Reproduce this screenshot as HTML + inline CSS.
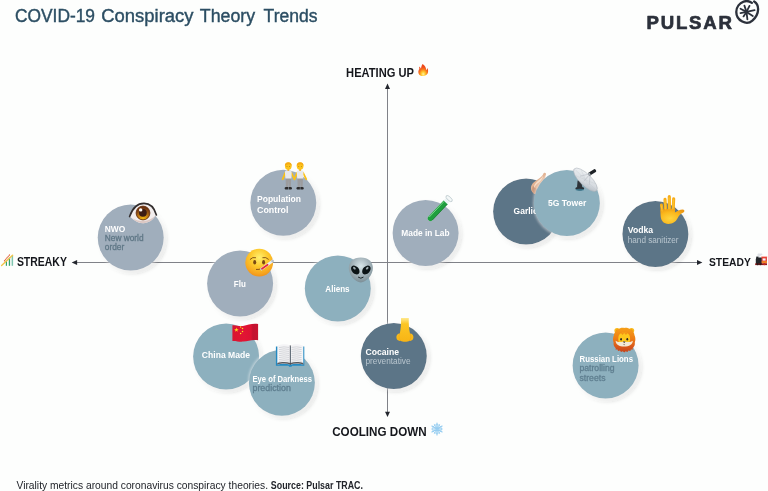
<!DOCTYPE html>
<html lang="en">
<head>
<meta charset="utf-8">
<title>COVID-19 Conspiracy Theory Trends</title>
<style>
html,body{margin:0;padding:0;background:#fdfefd;}
body{width:768px;height:491px;overflow:hidden;position:relative;}
svg{position:absolute;left:0;top:0;display:block;}
text{font-family:"Liberation Sans",Arial,Helvetica,sans-serif;}
.t{font-weight:700;fill:#ffffff;font-size:8.3px;}
.s{font-weight:400;font-size:8.3px;}
.ax{font-weight:700;fill:#15171c;font-size:12px;}
</style>
</head>
<body>
<svg width="768" height="491" viewBox="0 0 768 491">
<defs>
<filter id="sh" x="-20%" y="-20%" width="140%" height="140%">
<feGaussianBlur in="SourceAlpha" stdDeviation="2.1" result="b1"/>
<feOffset in="b1" dx="2" dy="2" result="o1"/>
<feFlood flood-color="#101828" flood-opacity="0.22"/>
<feComposite in2="o1" operator="in" result="shadow"/>
<feMorphology in="SourceAlpha" operator="dilate" radius="1.3" result="d1"/>
<feGaussianBlur in="d1" stdDeviation="1.2" result="b2"/>
<feFlood flood-color="#ffffff" flood-opacity="0.4"/>
<feComposite in2="b2" operator="in" result="glow"/>
<feMerge><feMergeNode in="shadow"/><feMergeNode in="glow"/><feMergeNode in="SourceGraphic"/></feMerge>
</filter>
</defs>
<rect width="768" height="491" fill="#fdfefd"/>

<!-- header -->
<g font-size="18" fill="#2c4e63" stroke="#2c4e63" stroke-width="0.4">
<text x="15" y="22.2" textLength="80" lengthAdjust="spacingAndGlyphs">COVID-19</text>
<text x="101.3" y="22.2" textLength="92.2" lengthAdjust="spacingAndGlyphs">Conspiracy</text>
<text x="199.8" y="22.2" textLength="55.4" lengthAdjust="spacingAndGlyphs">Theory</text>
<text x="263.6" y="22.2" textLength="53.9" lengthAdjust="spacingAndGlyphs">Trends</text>
</g>
<text x="646.5" y="29.1" font-size="18.6" font-weight="700" fill="#2c313b" stroke="#2c313b" stroke-width="0.7" stroke-linejoin="round" textLength="85.5" lengthAdjust="spacing">PULSAR</text>
<g fill="none" stroke="#2c313b" stroke-linecap="round" stroke-linejoin="round">
<path d="M751.9 2.9 C749.5 1 746.5 0.6 743.6 1.6 C739.6 3 736.4 7 736.3 11.8 C736.2 16 738.6 19.6 742.3 21.6 C745.6 23.3 749.4 23.2 752.4 20.6 C755.6 17.8 758 13.6 758.1 9.4 C758.2 6 756.8 3 754.2 1.4" stroke-width="2.3"/>
<g stroke-width="1.8">
<line x1="746.5" y1="11.9" x2="744.4" y2="5.6"/>
<line x1="746.5" y1="11.9" x2="749.5" y2="5.9"/>
<line x1="746.5" y1="11.9" x2="754.6" y2="10.1"/>
<line x1="746.5" y1="11.9" x2="752.8" y2="16.1"/>
<line x1="746.5" y1="11.9" x2="747.4" y2="19.4"/>
<line x1="746.5" y1="11.9" x2="743.5" y2="16.4"/>
<line x1="746.5" y1="11.9" x2="740.5" y2="13.1"/>
<line x1="746.5" y1="11.9" x2="740.5" y2="8.7"/>
</g>
<circle cx="746.5" cy="11.9" r="1.2" fill="#2c313b" stroke="none"/>
</g>

<!-- axes -->
<g stroke="#808288" stroke-width="1" fill="none">
<line x1="387.5" y1="87" x2="387.5" y2="414"/>
<line x1="75" y1="262.5" x2="699" y2="262.5"/>
</g>
<g fill="#23262d">
<path d="M387.5 83.6 L390 89 L385 89 Z"/>
<path d="M387.5 417.1 L390 411.7 L385 411.7 Z"/>
<path d="M71.7 262.5 L77.1 260 L77.1 265 Z"/>
<path d="M702.4 262.5 L697 260 L697 265 Z"/>
</g>
<text class="ax" x="346.1" y="77.1" textLength="67.8" lengthAdjust="spacingAndGlyphs">HEATING UP</text>
<text class="ax" x="332.2" y="436" textLength="94.4" lengthAdjust="spacingAndGlyphs">COOLING DOWN</text>
<text class="ax" x="16.9" y="266.4" textLength="50" lengthAdjust="spacingAndGlyphs">STREAKY</text>
<text class="ax" x="709" y="266.2" textLength="41.8" style="font-size:11.5px" lengthAdjust="spacingAndGlyphs">STEADY</text>

<!-- bubbles -->
<g filter="url(#sh)"><circle cx="130.7" cy="237.6" r="33" fill="#a0aebc"/></g>
<g filter="url(#sh)"><circle cx="283.3" cy="202.8" r="33" fill="#a0aebc"/></g>
<g filter="url(#sh)"><circle cx="240.1" cy="283.6" r="33" fill="#a0aebc"/></g>
<g filter="url(#sh)"><circle cx="337.8" cy="288.4" r="33" fill="#8db0be"/></g>
<g filter="url(#sh)"><circle cx="226.1" cy="356.6" r="33" fill="#8db0be"/></g>
<g filter="url(#sh)"><circle cx="281.9" cy="382.8" r="33" fill="#8db0be"/></g>
<g filter="url(#sh)"><circle cx="393.8" cy="356.1" r="33" fill="#5b7587"/></g>
<g filter="url(#sh)"><circle cx="425.6" cy="232.9" r="33" fill="#a0aebc"/></g>
<g filter="url(#sh)"><circle cx="526.1" cy="211.6" r="33" fill="#5b7587"/></g>
<text class="t" x="513.6" y="214" textLength="24" lengthAdjust="spacingAndGlyphs">Garlic</text>
<g>
<path d="M544.4 172.8 C545.8 172.6 546.4 173.8 545.8 175 C544.6 177.6 545.6 180 548.6 182 C553 185 553.6 190.6 550 193.6 C546 196.8 538 196.6 533.8 193.4 C530 190.4 530 185.6 533.6 182.4 C537 179.4 541.6 177.4 543 174.4 C543.2 173.6 543.8 173 544.4 172.8Z" fill="#e2b393"/>
<path d="M533 186 C531.4 189 532 191.8 533.8 193.4 C538 196.6 546 196.8 550 193.6 C546 194 539 192.6 536 188.6 C535 187.4 534 186.4 533 186Z" fill="#c9977a"/>
<path d="M543.2 175.6 C542 178.6 538.2 180.4 535.8 183 C534.4 184.6 533.8 186.4 534 188.2 C534.8 186 536.4 184.2 538.8 182.4 C541 180.6 543 178.6 543.2 175.6Z" fill="#f6dec8"/>
</g>

<g filter="url(#sh)"><circle cx="566.9" cy="202.9" r="33" fill="#8db0be"/></g>
<g filter="url(#sh)"><circle cx="655.4" cy="234" r="33" fill="#5b7587"/></g>
<g filter="url(#sh)"><circle cx="605.6" cy="365.4" r="33" fill="#8db0be"/></g>

<!-- bubble labels -->
<text class="t" x="104.8" y="231.5" textLength="20.5" lengthAdjust="spacingAndGlyphs">NWO</text>
<text class="s" fill="#5f7786" stroke="#5f7786" stroke-width="0.3" x="104.8" y="241.2" textLength="38.8" lengthAdjust="spacingAndGlyphs">New world</text>
<text class="s" fill="#5f7786" stroke="#5f7786" stroke-width="0.3" x="104.8" y="249.6" textLength="19.5" lengthAdjust="spacingAndGlyphs">order</text>

<text class="t" x="257" y="201.8" textLength="44" lengthAdjust="spacingAndGlyphs">Population</text>
<text class="t" x="257" y="212.5" textLength="31.5" lengthAdjust="spacingAndGlyphs">Control</text>

<text class="t" x="233.8" y="286.7" textLength="12" lengthAdjust="spacingAndGlyphs">Flu</text>
<text class="t" x="325.3" y="291.8" textLength="24.3" lengthAdjust="spacingAndGlyphs">Aliens</text>
<text class="t" x="201.8" y="358.4" textLength="48.2" lengthAdjust="spacingAndGlyphs">China Made</text>

<text class="t" x="252.5" y="381.8" textLength="59.5" lengthAdjust="spacingAndGlyphs">Eye of Darkness</text>
<text class="s" fill="#5f7f90" stroke="#5f7f90" stroke-width="0.3" x="252.5" y="391.3" textLength="38.3" lengthAdjust="spacingAndGlyphs">prediction</text>

<text class="t" x="365.5" y="355" textLength="33.5" lengthAdjust="spacingAndGlyphs">Cocaine</text>
<text class="s" fill="#b9c6cf" x="365.5" y="364" textLength="45" lengthAdjust="spacingAndGlyphs">preventative</text>

<text class="t" x="401.3" y="235.5" textLength="48.2" lengthAdjust="spacingAndGlyphs">Made in Lab</text>
<text class="t" x="548" y="205.5" textLength="38.3" lengthAdjust="spacingAndGlyphs">5G Tower</text>

<text class="t" x="627.8" y="232.5" textLength="25.3" lengthAdjust="spacingAndGlyphs">Vodka</text>
<text class="s" fill="#b9c6cf" x="627.8" y="242.5" textLength="50.8" lengthAdjust="spacingAndGlyphs">hand sanitizer</text>

<text class="t" x="579.5" y="361.5" textLength="53.5" lengthAdjust="spacingAndGlyphs">Russian Lions</text>
<text class="s" fill="#5f7f90" stroke="#5f7f90" stroke-width="0.3" x="579.5" y="371" textLength="35" lengthAdjust="spacingAndGlyphs">patrolling</text>
<text class="s" fill="#5f7f90" stroke="#5f7f90" stroke-width="0.3" x="579.5" y="381.1" textLength="26" lengthAdjust="spacingAndGlyphs">streets</text>

<!-- footer -->
<text x="16.5" y="488.5" font-size="10.3" fill="#22252b" textLength="251.5" lengthAdjust="spacingAndGlyphs">Virality metrics around coronavirus conspiracy theories.</text>
<text x="270.8" y="488.5" font-size="10.3" font-weight="700" fill="#22252b" textLength="92.2" lengthAdjust="spacingAndGlyphs">Source: Pulsar TRAC.</text>

<defs>
<radialGradient id="gFace" cx="0.5" cy="0.32" r="0.72">
<stop offset="0" stop-color="#fff070"/><stop offset="0.45" stop-color="#fdc92c"/><stop offset="0.8" stop-color="#f6a520"/><stop offset="1" stop-color="#ee8c18"/>
</radialGradient>
<radialGradient id="gIris" cx="0.5" cy="0.9" r="0.8">
<stop offset="0" stop-color="#f0b810"/><stop offset="0.4" stop-color="#c88212"/><stop offset="0.75" stop-color="#8a4a14"/><stop offset="1" stop-color="#6a3210"/>
</radialGradient>
<radialGradient id="gAlien" cx="0.5" cy="0.35" r="0.65">
<stop offset="0" stop-color="#d8e6e9"/><stop offset="0.5" stop-color="#a9b8be"/><stop offset="1" stop-color="#7b8e96"/>
</radialGradient>
<linearGradient id="gNose" x1="0" y1="0" x2="0" y2="1">
<stop offset="0" stop-color="#ffe98f"/><stop offset="0.25" stop-color="#fcc624"/><stop offset="1" stop-color="#f7b415"/>
</linearGradient>
<radialGradient id="gHand" cx="0.4" cy="0.65" r="0.7">
<stop offset="0" stop-color="#ffd53e"/><stop offset="0.6" stop-color="#fbb71c"/><stop offset="1" stop-color="#ec9712"/>
</radialGradient>
<linearGradient id="gFlag" x1="0" y1="0" x2="1" y2="0">
<stop offset="0" stop-color="#d81630"/><stop offset="0.45" stop-color="#e21434"/><stop offset="0.72" stop-color="#dc1232"/><stop offset="0.8" stop-color="#c21230"/><stop offset="1" stop-color="#c81431"/>
</linearGradient>
<linearGradient id="gMane" x1="0" y1="0" x2="0" y2="1">
<stop offset="0" stop-color="#f6a018"/><stop offset="0.45" stop-color="#ee7c14"/><stop offset="0.75" stop-color="#d9581a"/><stop offset="1" stop-color="#c4421a"/>
</linearGradient>
<radialGradient id="gFlame" cx="0.5" cy="0.85" r="0.6">
<stop offset="0" stop-color="#fff3a0"/><stop offset="0.35" stop-color="#ffc62a"/><stop offset="0.7" stop-color="#f7761c"/><stop offset="1" stop-color="#ee4a1c"/>
</radialGradient>
<linearGradient id="gDish" x1="0" y1="0" x2="1" y2="1">
<stop offset="0" stop-color="#f4f6f8"/><stop offset="0.6" stop-color="#d6dbe0"/><stop offset="1" stop-color="#aab2ba"/>
</linearGradient>
</defs>

<!-- eye (NWO) -->
<g>
<path d="M129.6 216.2 C133 208.5 138 204 144 204 C149.5 204 153.8 208.2 156.2 214.8 C153 220 148.5 223.2 143.2 223.2 C137.5 223.2 133 219.8 129.6 216.2Z" fill="#f3eeee"/>
<path d="M132 218 C136 222 140 223.2 143.2 223.2 C148.5 223.2 153 220 156.2 214.8 C153 218.5 148 221 143 221 C138.5 221 135 219.8 132 218Z" fill="#dcc8c4"/>
<circle cx="143" cy="213" r="6.9" fill="url(#gIris)"/>
<circle cx="143" cy="213" r="6.9" fill="none" stroke="#6a3210" stroke-width="0.9"/>
<circle cx="142.9" cy="212.8" r="3.9" fill="#3c1c14"/>
<circle cx="140.7" cy="209.9" r="1.7" fill="#ffffff"/>
<path d="M129.6 216.6 C132.5 208 138 203.4 144 203.4 C150 203.4 154.4 208 156.4 215" fill="none" stroke="#332e2e" stroke-width="1.6" stroke-linecap="round"/>
</g>

<!-- two people (Population Control) -->
<g>
<line x1="285.4" y1="172.6" x2="282.7" y2="179.2" stroke="#fbc116" stroke-width="1.8" stroke-linecap="round"/>
<line x1="291.2" y1="172.6" x2="294.4" y2="179.2" stroke="#fbc116" stroke-width="1.8" stroke-linecap="round"/>
<path d="M285.6 178 L285.9 187.6 L288 187.6 L288.3 180.5 L288.7 187.6 L290.8 187.6 L291.2 178Z" fill="#9c9c9e"/>
<path d="M284.6 188.2 Q284.6 186.9 286.2 186.9 L288.1 186.9 L288.1 189.4 L285.4 189.4 Q284.6 189.3 284.6 188.2Z" fill="#2b2b2d"/>
<path d="M292 188.2 Q292 186.9 290.4 186.9 L288.6 186.9 L288.6 189.4 L291.2 189.4 Q292 189.3 292 188.2Z" fill="#2b2b2d"/>
<path d="M284.9 172 Q285 170.2 286.8 170.2 L289.8 170.2 Q291.6 170.2 291.7 172 L291.4 178.6 L285.4 178.6Z" fill="#e9e9ec"/>
<rect x="287.4" y="168.8" width="1.8" height="2" fill="#f3a814"/>
<ellipse cx="288.3" cy="166.2" rx="3.3" ry="3.6" fill="#fcc41c"/>
<path d="M284.9 166 Q284.6 162.2 288.3 162.2 Q292 162.2 291.7 166 Q290.6 164.4 288.8 164.3 Q286.4 164.3 284.9 166Z" fill="#f6a912"/>
<circle cx="287" cy="166.6" r="0.45" fill="#7a4a12"/><circle cx="289.6" cy="166.6" r="0.45" fill="#7a4a12"/>
</g>
<g transform="translate(11.8 0)">
<line x1="285.4" y1="172.6" x2="282.7" y2="179.2" stroke="#fbc116" stroke-width="1.8" stroke-linecap="round"/>
<line x1="291.2" y1="172.6" x2="294.4" y2="179.2" stroke="#fbc116" stroke-width="1.8" stroke-linecap="round"/>
<path d="M285.6 178 L285.9 187.6 L288 187.6 L288.3 180.5 L288.7 187.6 L290.8 187.6 L291.2 178Z" fill="#9c9c9e"/>
<path d="M284.6 188.2 Q284.6 186.9 286.2 186.9 L288.1 186.9 L288.1 189.4 L285.4 189.4 Q284.6 189.3 284.6 188.2Z" fill="#2b2b2d"/>
<path d="M292 188.2 Q292 186.9 290.4 186.9 L288.6 186.9 L288.6 189.4 L291.2 189.4 Q292 189.3 292 188.2Z" fill="#2b2b2d"/>
<path d="M284.9 172 Q285 170.2 286.8 170.2 L289.8 170.2 Q291.6 170.2 291.7 172 L291.4 178.6 L285.4 178.6Z" fill="#e9e9ec"/>
<rect x="287.4" y="168.8" width="1.8" height="2" fill="#f3a814"/>
<ellipse cx="288.3" cy="166.2" rx="3.3" ry="3.6" fill="#fcc41c"/>
<path d="M284.9 166 Q284.6 162.2 288.3 162.2 Q292 162.2 291.7 166 Q290.6 164.4 288.8 164.3 Q286.4 164.3 284.9 166Z" fill="#f6a912"/>
<circle cx="287" cy="166.6" r="0.45" fill="#7a4a12"/><circle cx="289.6" cy="166.6" r="0.45" fill="#7a4a12"/>
</g>


<!-- flu face -->
<g>
<circle cx="259.2" cy="262.6" r="13.9" fill="url(#gFace)"/>
<ellipse cx="254.7" cy="262.3" rx="1.5" ry="2.2" fill="#7a4a14"/>
<ellipse cx="263.6" cy="262.3" rx="1.5" ry="2.2" fill="#7a4a14"/>
<path d="M250.2 259.3 Q252.5 256.6 255.6 257.6" fill="none" stroke="#7a4a14" stroke-width="0.9" stroke-linecap="round"/>
<path d="M262.8 257.6 Q266 256.6 268.4 259.2" fill="none" stroke="#7a4a14" stroke-width="0.9" stroke-linecap="round"/>
<path d="M256.4 269.5 Q259 269.8 261.6 268.6" fill="none" stroke="#7a4a14" stroke-width="0.9" stroke-linecap="round"/>
<line x1="261.6" y1="269" x2="272.6" y2="261" stroke="#e9edf2" stroke-width="2.7" stroke-linecap="round"/>
<line x1="261.6" y1="269" x2="272.6" y2="261" stroke="#b8c0c8" stroke-width="2.7" stroke-linecap="round" stroke-dasharray="0 13.5 1" />
<line x1="262" y1="268.7" x2="267.6" y2="264.7" stroke="#e8283c" stroke-width="1.7" stroke-linecap="round"/>
</g>

<!-- alien -->
<g>
<path d="M360.8 257.4 C368.5 257.4 372.9 262 372.9 268 C372.9 274.5 366.5 282.4 360.8 282.4 C355 282.4 348.8 274.5 348.8 268 C348.8 262 353 257.4 360.8 257.4Z" fill="url(#gAlien)"/>
<ellipse cx="355.3" cy="270" rx="5" ry="3.5" transform="rotate(47 355.3 270)" fill="#0c1416"/>
<ellipse cx="366.4" cy="270" rx="5" ry="3.5" transform="rotate(-47 366.4 270)" fill="#0c1416"/>
<ellipse cx="354.4" cy="268.2" rx="1.6" ry="1" transform="rotate(42 354.4 268.2)" fill="#b9c6ca" opacity="0.85"/>
<ellipse cx="367.2" cy="268.2" rx="1.6" ry="1" transform="rotate(-42 367.2 268.2)" fill="#b9c6ca" opacity="0.85"/>
<path d="M358.4 277.3 Q360.8 279.4 363.2 277.3" fill="none" stroke="#1a2326" stroke-width="1" stroke-linecap="round"/>
</g>

<!-- china flag -->
<g>
<path d="M232.4 325.3 C236 324.8 239 326.6 243 325.9 C248 325 252 323.2 258.1 324 L258.1 340.2 C252 339.4 248 341 243.5 341.6 C239.5 342.2 236.5 340.8 232.4 341Z" fill="url(#gFlag)"/>
<path d="M236.40 327.50 L236.95 329.14 L238.68 329.16 L237.29 330.19 L237.81 331.84 L236.40 330.84 L234.99 331.84 L235.51 330.19 L234.12 329.16 L235.85 329.14 Z" fill="#ffde20"/>
<circle cx="240.6" cy="327" r="0.75" fill="#ffde20"/>
<circle cx="242.5" cy="328.6" r="0.75" fill="#ffde20"/>
<circle cx="242.5" cy="331.4" r="0.75" fill="#ffde20"/>
<circle cx="240.6" cy="333.4" r="0.75" fill="#ffde20"/>
</g>

<!-- open book -->
<g>
<path d="M275.9 346.4 L304.3 346.4 L304.3 365.7 L292.2 365.7 L291.4 366.8 L289.2 366.8 L288.4 365.7 L275.9 365.7Z" fill="#2289c2"/>
<path d="M277.3 346 C281 343.6 286.5 343.6 290.2 345.6 L290.2 364.6 C286.5 363.4 281 363.4 277.3 364.6Z" fill="#f4f4f6"/>
<path d="M303.3 346 C299.6 343.6 294.1 343.6 290.4 345.6 L290.4 364.6 C294.1 363.4 299.6 363.4 303.3 364.6Z" fill="#f4f4f6"/>
<path d="M277.3 364.7 C281 363.3 286.5 363.3 290.2 364.4 C294.1 363.3 299.6 363.3 303.3 364.7 L303.3 363.1 C299.6 361.8 294.1 361.8 290.3 362.9 C286.5 361.8 281 361.8 277.3 363.1Z" fill="#5a5a5e"/>
<g stroke="#b4b6bc" stroke-width="0.5">
<path d="M279 347.6 Q284 346.2 289 347.4 M279 349.6 Q284 348.2 289 349.4 M279 351.6 Q284 350.2 289 351.4 M279 353.6 Q284 352.2 289 353.4 M279 355.6 Q284 354.2 289 355.4 M279 357.6 Q284 356.2 289 357.4 M279 359.6 Q284 358.2 289 359.4 M279 361.4 Q284 360 289 361.2" fill="none"/>
<path d="M291.6 347.4 Q296.6 346.2 301.6 347.6 M291.6 349.4 Q296.6 348.2 301.6 349.6 M291.6 351.4 Q296.6 350.2 301.6 351.6 M291.6 353.4 Q296.6 352.2 301.6 353.6 M291.6 355.4 Q296.6 354.2 301.6 355.6 M291.6 357.4 Q296.6 356.2 301.6 357.6 M291.6 359.4 Q296.6 358.2 301.6 359.6 M291.6 361.2 Q296.6 360 301.6 361.4" fill="none"/>
</g>
<line x1="290.3" y1="345.4" x2="290.3" y2="364.8" stroke="#4a4c52" stroke-width="0.9"/>
</g>

<!-- nose -->
<g>
<path d="M401 318 L408.8 318 C408.6 324 409 329 410 333.6 C412.4 333.6 413.6 335.6 413.4 337.6 C413.2 340 411.4 341.2 409.4 340.8 C407.8 342.2 402.4 342.2 400.6 340.8 C398.4 341.2 396.6 340 396.4 337.6 C396.2 335.6 397.6 333.6 399.8 333.6 C400.8 329 401.2 324 401 318Z" fill="url(#gNose)"/>
<path d="M399.8 333.6 C398.6 335.4 398.8 339 400.6 340.8" fill="none" stroke="#f0a010" stroke-width="0.6" opacity="0.8"/>
<path d="M410 333.6 C411.2 335.4 411 339 409.4 340.8" fill="none" stroke="#f0a010" stroke-width="0.6" opacity="0.8"/>
</g>

<!-- test tube -->
<g transform="translate(430.4 218.3) rotate(-46.5)">
<path d="M0 -2.7 L26.6 -2.7 L26.6 2.7 L0 2.7 A2.7 2.7 0 0 1 0 -2.7Z" fill="#e9f2f2" opacity="0.92"/>
<path d="M0 -2.7 L22 -2.7 L22 2.7 L0 2.7 A2.7 2.7 0 0 1 0 -2.7Z" fill="#1f9f3e"/>
<path d="M0.5 -1.7 L21.4 -1.7" stroke="#86dc96" stroke-width="0.9" stroke-linecap="round" opacity="0.9"/>
<path d="M0 2.6 L22 2.6" stroke="#0f6f28" stroke-width="0.8" opacity="0.8"/>
<ellipse cx="27.2" cy="0" rx="1.8" ry="4" fill="#f4f8f8" stroke="#b4c2c6" stroke-width="0.7"/>
</g>

<!-- satellite dish -->
<g>
<path d="M577.6 180.5 L581 180.5 L582.4 187.4 L577 187.4Z" fill="#2e3338"/>
<ellipse cx="579.8" cy="188.6" rx="4.4" ry="1.8" fill="#2a3036"/>
<ellipse cx="579.8" cy="189.8" rx="4.2" ry="1.1" fill="#3d7f97" opacity="0.75"/>
<g transform="translate(584.9 180.3) rotate(44.5)">
<path d="M-15.6 0 C-12 4.6 12 4.6 15.6 0 C12 -2 -12 -2 -15.6 0Z" fill="#7d868f"/>
<ellipse cx="0" cy="-0.8" rx="15.6" ry="5.8" fill="url(#gDish)"/>
<ellipse cx="0" cy="-0.8" rx="15.6" ry="5.8" fill="none" stroke="#a8b0b8" stroke-width="0.5"/>
<path d="M-14 -0.8 L14 -0.8 M-10 -4.8 L10 3.2 M10 -4.8 L-10 3.2 M0 -6.4 L0 4.8" stroke="#c2c8ce" stroke-width="0.4" opacity="0.8"/>
</g>
<path d="M584 181 L589.6 174.2 M589.2 185 L590.2 174.4 M580 176.2 L589.2 174" stroke="#b8bec6" stroke-width="0.6" fill="none"/>
<g transform="translate(588.8 174.4) rotate(-32)">
<rect x="0" y="-1.6" width="8.2" height="3.2" rx="1" fill="#1e2226"/>
<rect x="0" y="-1.3" width="1.6" height="2.6" fill="#aab2ba"/>
</g>
</g>

<!-- raised hand -->
<g>
<g stroke="#f8ad18" stroke-linecap="round" fill="none">
<line x1="662.6" y1="213" x2="661.4" y2="204.9" stroke-width="2.9"/>
<line x1="665.7" y1="211" x2="665" y2="199.3" stroke-width="3.1"/>
<line x1="669.4" y1="211" x2="669.3" y2="196.7" stroke-width="3.2"/>
<line x1="673.1" y1="211" x2="673.7" y2="198.7" stroke-width="3.1"/>

</g>
<path d="M660.3 209.5 L675.2 208.4 L674.9 212.6 C677 210.6 680.4 209.3 683 209.4 C684.7 209.6 684.9 211.6 683.4 212.4 C680.6 213.6 678.9 215.4 677.7 218 C676 221.6 672.8 223.9 668.4 223.9 C663.8 223.9 660.9 220.9 660.6 215.8Z" fill="url(#gHand)"/>
<g stroke="#fcc934" stroke-linecap="round" fill="none" opacity="0.9">
<line x1="665.4" y1="209" x2="664.9" y2="200.4" stroke-width="1.1"/>
<line x1="669.1" y1="209" x2="669.05" y2="197.8" stroke-width="1.1"/>
<line x1="672.9" y1="209" x2="673.4" y2="199.8" stroke-width="1.1"/>
<line x1="662.1" y1="211" x2="661.2" y2="205.8" stroke-width="1"/>
</g>
</g>

<!-- lion -->
<g>
<circle cx="617.1" cy="330.6" r="2.7" fill="#f9b818"/>
<circle cx="631.5" cy="330.6" r="2.7" fill="#f9b818"/>
<circle cx="617.3" cy="330.9" r="1.3" fill="#e88a12"/>
<circle cx="631.3" cy="330.9" r="1.3" fill="#e88a12"/>
<path d="M624.2 327.9 C626.6 327.4 628.8 328.2 630.4 329.4 C632.8 330.6 634.4 332.8 634.5 335.2 C635.6 337.4 635.7 340.4 634.8 342.6 C635.2 344.8 634.2 347 632.6 348.2 L633 349.6 L630.8 349.4 L630.4 351 L628.4 350.4 L627.4 352 L625.6 351.2 L624.2 352.6 L622.8 351.2 L621 352 L620 350.4 L618 351 L617.6 349.4 L615.4 349.6 L615.8 348.2 C614.2 347 613.2 344.8 613.6 342.6 C612.7 340.4 612.8 337.4 613.9 335.2 C614 332.8 615.6 330.6 618 329.4 C619.6 328.2 621.8 327.4 624.2 327.9Z" fill="url(#gMane)"/>
<path d="M618.4 337.4 C618.6 334 621 332.4 624.2 332.4 C627.4 332.4 629.8 334 630 337.4 C630.4 341 630 344 624.2 345.4 C618.4 344 618 341 618.4 337.4Z" fill="#fdc61c"/>
<path d="M621 333.2 L622.4 335 L624.2 333 L626 335 L627.4 333.2 C626.4 332.4 625.2 332.2 624.2 332.2 C623.2 332.2 622 332.4 621 333.2Z" fill="#f39416"/>
<path d="M615.6 340.8 C617.8 342.4 621 342.4 624.2 341.2 C627.4 342.4 630.6 342.4 632.8 340.8 C632.8 344.6 629.2 346.6 624.2 346.6 C619.2 346.6 615.6 344.6 615.6 340.8Z" fill="#f3e9d6"/>
<ellipse cx="621.1" cy="339.2" rx="0.9" ry="1.3" fill="#2a2420"/>
<ellipse cx="627.3" cy="339.2" rx="0.9" ry="1.3" fill="#2a2420"/>
<path d="M622.8 341.5 L625.6 341.5 L624.2 343Z" fill="#2a2420"/>
<path d="M623.4 344.4 Q624.2 345 625 344.4" stroke="#3a302a" stroke-width="0.5" fill="none"/>
</g>

<!-- flame -->
<g>
<path d="M422.6 64 C425 65.6 426.2 68 426.2 70.2 C426.8 69.6 427.2 68.8 427.3 68 C428.3 69.6 428.4 72 427.6 73.6 C426.8 75.2 425 76 423.2 76 C421 76 419.2 75.2 418.6 73.4 C418 71.6 418.6 70 419.4 69 C419.2 68.2 419 67.4 419.3 66.6 C420 67.4 420.6 68 421 68.8 C421.2 67 421.6 65.4 422.6 64Z" fill="url(#gFlame)"/>
</g>

<!-- snowflake -->
<g stroke="#96cdf1" stroke-width="1.2" stroke-linecap="round" fill="none">
<path d="M437 423.1 L437 434.9 M431.9 426.05 L442.1 431.95 M431.9 431.95 L442.1 426.05"/>
<path d="M431.6 429 L442.4 429 M434.3 424.3 L439.7 433.7 M434.3 433.7 L439.7 424.3" stroke-width="0.9" opacity="0.85"/>
<circle cx="437" cy="429" r="4.3" stroke-width="1" opacity="0.9"/>
<circle cx="437" cy="429" r="2" stroke-width="0.9"/>
</g>

<!-- chart -->
<g>
<rect x="5.8" y="260.6" width="1.2" height="5.2" fill="#36a268"/>
<rect x="8.8" y="257.6" width="1.3" height="8.2" fill="#36a268"/>
<rect x="11.6" y="255.6" width="1.5" height="10.2" fill="#7fc6b0"/>
<line x1="1.6" y1="265.5" x2="12.6" y2="255.2" stroke="#f2c548" stroke-width="1.4" stroke-linecap="round"/>
<line x1="4.4" y1="260.8" x2="9.6" y2="254.9" stroke="#e0623c" stroke-width="1.1" stroke-linecap="round" stroke-dasharray="0.6 1.2"/>
</g>

<!-- train -->
<g>
<path d="M757.4 255 C757.2 253.6 759 253 760.2 253.8 C761.2 253 762.8 253.6 762.4 254.8 C761.4 255.6 759.6 256 759.4 257 L757.8 257Z" fill="#dfe2e6"/>
<rect x="756.2" y="256.6" width="2.2" height="2.6" fill="#25282c"/>
<path d="M755.8 259.4 C755.8 258 757 257.6 758.4 257.6 L761.9 257.6 L761.9 264.2 L755.8 264.2Z" fill="#24272b"/>
<rect x="761.7" y="257" width="5.2" height="6.4" fill="#e2382e"/>
<rect x="761.3" y="256.6" width="5.9" height="0.9" fill="#ef4a3a"/>
<rect x="762.6" y="258.4" width="3" height="2.2" fill="#f6f6f8"/>
<rect x="761.7" y="261.4" width="5.2" height="1.3" fill="#f6a623"/>
<rect x="755.2" y="263.4" width="11.8" height="1.7" fill="#8c1a1a"/>
<circle cx="757.6" cy="264.2" r="1.1" fill="#2a1a1a"/><circle cx="760.4" cy="264.2" r="1.1" fill="#2a1a1a"/><circle cx="764.4" cy="264.2" r="1.1" fill="#c8281e"/>
</g>

<!--EMOJI-->
</svg>
</body>
</html>
